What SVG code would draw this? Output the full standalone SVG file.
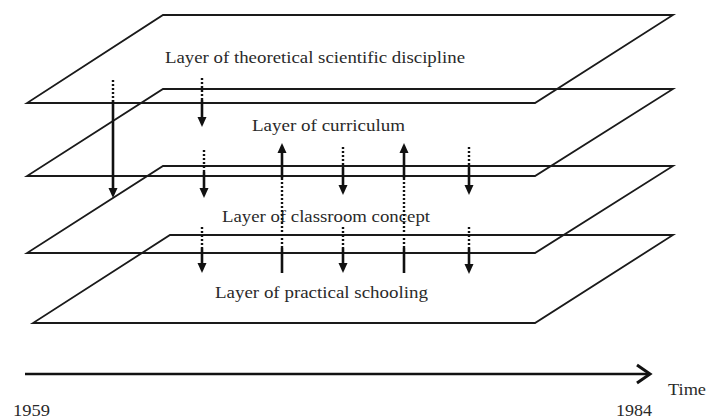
<svg xmlns="http://www.w3.org/2000/svg" width="707" height="419" viewBox="0 0 707 419">
<defs>
<style>
.layer{fill:none;stroke:#1a1a1a;stroke-width:1.8;stroke-linejoin:miter}
.lbl{font-family:"Liberation Serif","Times New Roman",serif;font-size:16px;fill:#2a2a2a}
.sol{stroke:#111;stroke-width:2.6;fill:none}
.dot{stroke:#111;stroke-width:2.4;fill:none;stroke-dasharray:2 2}
.head{fill:#111}
</style>
</defs>
<rect width="707" height="419" fill="#fff"/>
<g id="layer-theoretical">
<polygon class="layer" points="163,15 673,15 535,103 27,103"/>
<text class="lbl" x="165" y="63" textLength="300" lengthAdjust="spacingAndGlyphs">Layer of theoretical scientific discipline</text>
</g>
<g id="layer-curriculum">
<polygon class="layer" points="163,89 673,89 535,176 27,176"/>
<text class="lbl" x="252" y="131" textLength="153" lengthAdjust="spacingAndGlyphs">Layer of curriculum</text>
</g>
<g id="layer-classroom">
<polygon class="layer" points="163,166 673,166 535,253 27,253"/>
<text class="lbl" x="222" y="222" textLength="208" lengthAdjust="spacingAndGlyphs">Layer of classroom concept</text>
</g>
<g id="layer-practical">
<polygon class="layer" points="170,235 673,235 535,323 33,323"/>
<text class="lbl" x="215" y="298" textLength="213" lengthAdjust="spacingAndGlyphs">Layer of practical schooling</text>
</g>
<g id="connectors">
<line class="dot" x1="113" y1="80" x2="113" y2="100"/>
<line class="sol" x1="113" y1="100" x2="113" y2="190"/>
<polygon class="head" points="108.5,188 117.5,188 113,198"/>
<line class="dot" x1="202" y1="78" x2="202" y2="100"/>
<line class="sol" x1="202" y1="100" x2="202" y2="119"/>
<polygon class="head" points="197.5,117 206.5,117 202,127"/>
<line class="dot" x1="204" y1="150" x2="204" y2="172"/>
<line class="sol" x1="204" y1="172" x2="204" y2="190"/>
<polygon class="head" points="199.5,188 208.5,188 204,198"/>
<line class="dot" x1="343" y1="147" x2="343" y2="168"/>
<line class="sol" x1="343" y1="168" x2="343" y2="187"/>
<polygon class="head" points="338.5,185 347.5,185 343,195"/>
<line class="dot" x1="469" y1="147" x2="469" y2="168"/>
<line class="sol" x1="469" y1="168" x2="469" y2="187"/>
<polygon class="head" points="464.5,185 473.5,185 469,195"/>
<polygon class="head" points="277.5,153 286.5,153 282,143"/>
<line class="sol" x1="282" y1="151" x2="282" y2="178"/>
<line class="dot" x1="282" y1="178" x2="282" y2="248"/>
<line class="sol" x1="282" y1="248" x2="282" y2="273"/>
<polygon class="head" points="399.5,153 408.5,153 404,143"/>
<line class="sol" x1="404" y1="151" x2="404" y2="178"/>
<line class="dot" x1="404" y1="178" x2="404" y2="248"/>
<line class="sol" x1="404" y1="248" x2="404" y2="273"/>
<line class="dot" x1="202" y1="227" x2="202" y2="248"/>
<line class="sol" x1="202" y1="248" x2="202" y2="265"/>
<polygon class="head" points="197.5,263 206.5,263 202,273"/>
<line class="dot" x1="343" y1="227" x2="343" y2="248"/>
<line class="sol" x1="343" y1="248" x2="343" y2="265"/>
<polygon class="head" points="338.5,263 347.5,263 343,273"/>
<line class="dot" x1="469" y1="227" x2="469" y2="248"/>
<line class="sol" x1="469" y1="248" x2="469" y2="266"/>
<polygon class="head" points="464.5,264 473.5,264 469,274"/>
</g>
<g id="time-axis">
<line x1="25" y1="374" x2="648" y2="374" stroke="#111" stroke-width="2.4"/>
<polyline points="637,365 650,374 637,383" fill="none" stroke="#111" stroke-width="3"/>
<text class="lbl" x="668" y="395" textLength="38" lengthAdjust="spacingAndGlyphs">Time</text>
<text class="lbl" x="13" y="416" textLength="37" lengthAdjust="spacingAndGlyphs">1959</text>
<text class="lbl" x="616" y="416" textLength="36" lengthAdjust="spacingAndGlyphs">1984</text>
</g>
</svg>
